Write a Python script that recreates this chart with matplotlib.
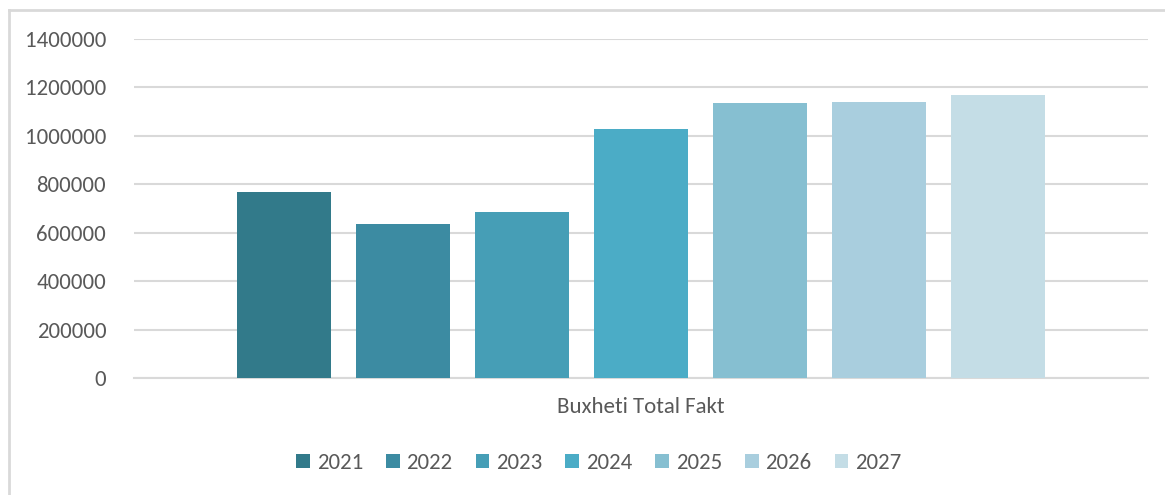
import matplotlib
matplotlib.use("Agg")
import matplotlib.pyplot as plt
from matplotlib.lines import Line2D
from matplotlib.patches import Patch
import numpy as np

# ---- data ----
category = "Buxheti Total Fakt"
years = ["2021", "2022", "2023", "2024", "2025", "2026", "2027"]
values = [768000, 636000, 685000, 1028000, 1136000, 1140000, 1169000]
colors = ["#327A8A", "#3C8BA2", "#469EB6", "#4BACC6", "#86BFD1", "#A9CEDE", "#C4DDE6"]
yticks = [0, 200000, 400000, 600000, 800000, 1000000, 1200000, 1400000]

plt.rcParams["font.family"] = ["Carlito", "Liberation Sans Narrow", "Lato", "DejaVu Sans"]
text_color = "#595959"
grid_color = "#D9D9D9"

fig = plt.figure(figsize=(11.65, 4.95), dpi=100)
ax = fig.add_axes([0.115, 0.2364, 0.8704, 0.6848])

step = 0.1174
width = 0.0927
offsets = (np.arange(len(years)) - (len(years) - 1) / 2) * step
for off, v, c, yr in zip(offsets, values, colors, years):
    ax.bar(off, v, width=width, color=c, label=yr, zorder=3)

ax.set_xlim(-0.5, 0.5)
ax.set_ylim(0, 1400000)
ax.set_yticks(yticks)
ax.set_yticklabels([str(t) for t in yticks], fontsize=16.5, color=text_color)
ax.set_xticks([0])
ax.set_xticklabels([category], fontsize=16.5, color=text_color)
ax.tick_params(axis="y", length=0, pad=20)
ax.tick_params(axis="x", length=0, pad=14)
ax.grid(axis="y", color=grid_color, linewidth=1.5, zorder=0)
for s in ["top", "right", "left"]:
    ax.spines[s].set_visible(False)
ax.spines["bottom"].set_color(grid_color)
ax.spines["bottom"].set_linewidth(1.5)

handles = [Patch(facecolor=c, edgecolor="none") for c in colors]
leg = fig.legend(handles, years, loc="center", bbox_to_anchor=(0.514, 0.0646),
                 ncol=len(years), frameon=False, fontsize=16.5,
                 handlelength=0.6, handleheight=0.6, handletextpad=0.3,
                 columnspacing=1.0)
for t in leg.get_texts():
    t.set_color(text_color)

# outer chart border (only top and left edges visible in the crop)
W, H = 1165, 495
fig.add_artist(Line2D([9 / W, 1.0], [1 - 10 / H, 1 - 10 / H],
                      transform=fig.transFigure, color=grid_color, linewidth=2))
fig.add_artist(Line2D([9 / W, 9 / W], [0.0, 1 - 10 / H],
                      transform=fig.transFigure, color=grid_color, linewidth=2))

fig.savefig("out.png", dpi=100, facecolor="white")
